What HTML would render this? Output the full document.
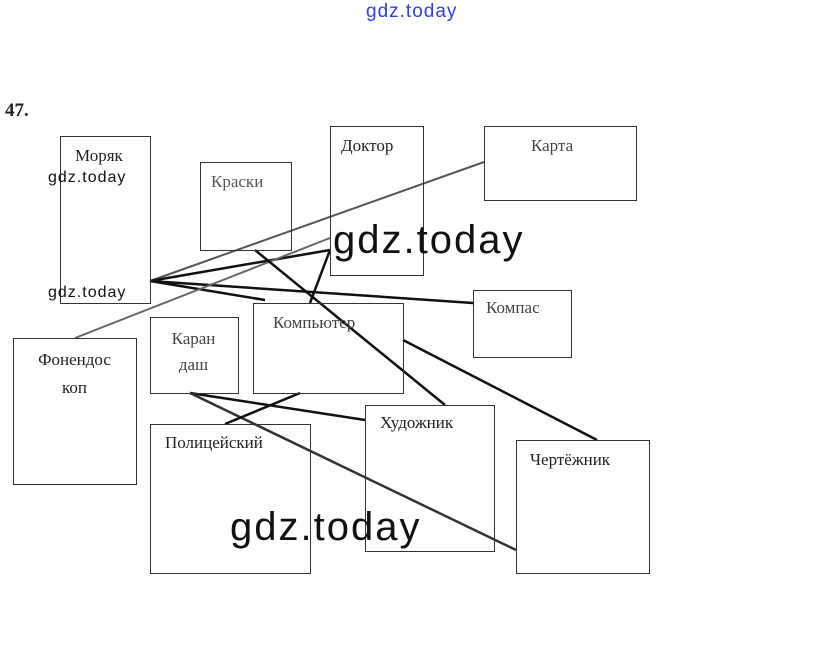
<!DOCTYPE html>
<html><head><meta charset="utf-8"><style>
html,body{margin:0;padding:0;background:#fff;}
body{width:815px;height:667px;position:relative;overflow:hidden;font-family:"Liberation Serif",serif;}
.b{position:absolute;border:1px solid #333;box-sizing:border-box;}
.t{position:absolute;font-size:17px;color:#222;white-space:nowrap;}
.w{position:absolute;font-family:"Liberation Sans",sans-serif;color:#111;}
</style></head><body>
<svg width="815" height="667" style="position:absolute;left:0;top:0">
<g stroke="#111" stroke-width="2.5" fill="none">
<line x1="150" y1="281" x2="484" y2="162" stroke="#555" stroke-width="2"/>
<line x1="150" y1="281" x2="330" y2="250"/>
<line x1="150" y1="281" x2="473" y2="303"/>
<line x1="150" y1="281" x2="265" y2="300"/>
<line x1="75" y1="338" x2="330" y2="238" stroke="#666" stroke-width="2"/>
<line x1="330" y1="250" x2="310" y2="303"/>
<line x1="255" y1="250" x2="445" y2="405"/>
<line x1="403" y1="340" x2="597" y2="440"/>
<line x1="190" y1="393" x2="365" y2="420"/>
<line x1="190" y1="393" x2="516" y2="550" stroke="#333"/>
<line x1="225" y1="424" x2="300" y2="393"/>
</g></svg>
<div class="b" style="left:60px;top:136px;width:91px;height:168px"></div>
<div class="b" style="left:200px;top:162px;width:92px;height:89px"></div>
<div class="b" style="left:330px;top:126px;width:94px;height:150px"></div>
<div class="b" style="left:484px;top:126px;width:153px;height:75px"></div>
<div class="b" style="left:473px;top:290px;width:99px;height:68px"></div>
<div class="b" style="left:13px;top:338px;width:124px;height:147px"></div>
<div class="b" style="left:150px;top:317px;width:89px;height:77px"></div>
<div class="b" style="left:253px;top:303px;width:151px;height:91px"></div>
<div class="b" style="left:150px;top:424px;width:161px;height:150px"></div>
<div class="b" style="left:365px;top:405px;width:130px;height:147px"></div>
<div class="b" style="left:516px;top:440px;width:134px;height:134px"></div>
<div class="t" style="left:75px;top:146px">Моряк</div>
<div class="t" style="left:211px;top:172px;color:#555">Краски</div>
<div class="t" style="left:341px;top:136px">Доктор</div>
<div class="t" style="left:531px;top:136px;color:#444">Карта</div>
<div class="t" style="left:486px;top:298px;color:#444">Компас</div>
<div class="t" style="left:27px;top:346px;line-height:28px;text-align:center;width:95px">Фонендос<br>коп</div>
<div class="t" style="left:166px;top:326px;line-height:26px;text-align:center;width:55px;color:#444">Каран<br>даш</div>
<div class="t" style="left:273px;top:313px;color:#444">Компьютер</div>
<div class="t" style="left:165px;top:433px">Полицейский</div>
<div class="t" style="left:380px;top:413px">Художник</div>
<div class="t" style="left:530px;top:450px">Чертёжник</div>
<div class="t" style="left:5px;top:100px;font-weight:bold;font-size:19px">47.</div>
<div class="w" style="left:366px;top:1px;font-size:19px;letter-spacing:1px;color:#3340dd">gdz.today</div>
<div class="w" style="left:333px;top:218px;font-size:40px;letter-spacing:2px">gdz.today</div>
<div class="w" style="left:230px;top:505px;font-size:40px;letter-spacing:2px">gdz.today</div>
<div class="w" style="left:48px;top:169px;font-size:16px;letter-spacing:1px">gdz.today</div>
<div class="w" style="left:48px;top:284px;font-size:16px;letter-spacing:1px">gdz.today</div>
</body></html>
